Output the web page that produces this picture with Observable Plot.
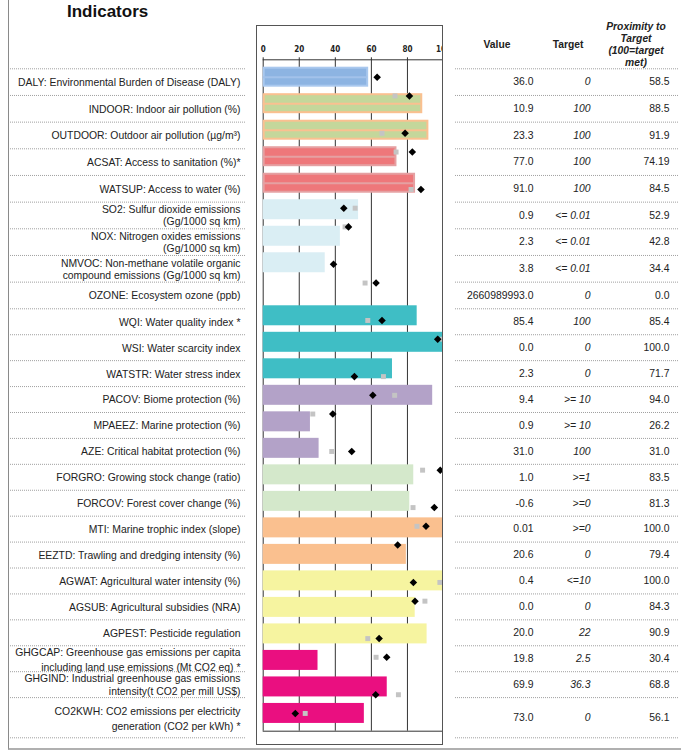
<!DOCTYPE html>
<html>
<head>
<meta charset="utf-8">
<script src="https://cdn.jsdelivr.net/npm/d3@7"></script>
<script src="https://cdn.jsdelivr.net/npm/@observablehq/plot@0.6"></script>
<style>
  body { margin: 0; background: #fff; }
  #page { position: relative; width: 681px; height: 753px; overflow: hidden;
          font-family: "Liberation Sans", Arial, sans-serif; color: #222; background: #fff; }
  #frame { position: absolute; left: 8px; top: -4px; width: 700px; height: 754px;
           border-left: 1.5px solid #8a8a8a; border-bottom: 2px solid #b0b0b0; box-sizing: border-box; }
  #table { position: absolute; left: 0; top: 0; }
  #bars { position: absolute; left: 256px; top: 25px; }
  #box { position: absolute; left: 256px; top: 25px; width: 187px; height: 720px;
         border: 1px solid #555; box-sizing: border-box; pointer-events: none; }
  .title { position: absolute; left: 67px; top: 2px; font-size: 17px; line-height: 20px; font-weight: bold; color: #111; }
  .hdr { position: absolute; transform: translateX(-50%); font-size: 10.3px; line-height: 12px;
         font-weight: bold; text-align: center; white-space: nowrap; color: #222; }
  .hdr.it { font-style: italic; }
</style>
</head>
<body>
<div id="page">
  <div id="frame"></div>
  <div id="table"></div>
  <div id="bars"></div>
  <div id="box"></div>
  <div class="title">Indicators</div>
  <div class="hdr" style="left:497px; top:39px;">Value</div>
  <div class="hdr" style="left:568px; top:39px;">Target</div>
  <div class="hdr it" style="left:636px; top:20.5px;">Proximity to<br>Target<br>(100=target<br>met)</div>
</div>
<script>
// ---------- data ----------
const indicators = [
  "DALY: Environmental Burden of Disease (DALY)",
  "INDOOR: Indoor air pollution (%)",
  "OUTDOOR: Outdoor air pollution (µg/m³)",
  "ACSAT: Access to sanitation (%)*",
  "WATSUP: Access to water (%)",
  "SO2: Sulfur dioxide emissions\n(Gg/1000 sq km)",
  "NOX: Nitrogen oxides emissions\n(Gg/1000 sq km)",
  "NMVOC: Non-methane volatile organic\ncompound emissions (Gg/1000 sq km)",
  "OZONE: Ecosystem ozone (ppb)",
  "WQI: Water quality index *",
  "WSI: Water scarcity index",
  "WATSTR: Water stress index",
  "PACOV: Biome protection (%)",
  "MPAEEZ: Marine protection (%)",
  "AZE: Critical habitat protection (%)",
  "FORGRO: Growing stock change (ratio)",
  "FORCOV: Forest cover change (%)",
  "MTI: Marine trophic index (slope)",
  "EEZTD: Trawling and dredging intensity (%)",
  "AGWAT: Agricultural water intensity (%)",
  "AGSUB: Agricultural subsidies (NRA)",
  "AGPEST: Pesticide regulation",
  "GHGCAP: Greenhouse gas emissions per capita\nincluding land use emissions (Mt CO2 eq) *",
  "GHGIND: Industrial greenhouse gas emissions\nintensity(t CO2 per mill US$)",
  "CO2KWH: CO2 emissions per electricity\ngeneration (CO2 per kWh) *"
];
const groups = [
  "EBD", "AirH", "AirH", "WaterH", "WaterH",
  "AirE", "AirE", "AirE", "AirE",
  "WaterE", "WaterE", "WaterE",
  "Biodiv", "Biodiv", "Biodiv",
  "Forest", "Forest", "Fish", "Fish",
  "Agri", "Agri", "Agri",
  "Climate", "Climate", "Climate"
];
const values = [
  "36.0", "10.9", "23.3", "77.0", "91.0", "0.9", "2.3", "3.8", "2660989993.0",
  "85.4", "0.0", "2.3", "9.4", "0.9", "31.0", "1.0", "-0.6", "0.01", "20.6",
  "0.4", "0.0", "20.0", "19.8", "69.9", "73.0"
];
const targets = [
  "0", "100", "100", "100", "100", "<= 0.01", "<= 0.01", "<= 0.01", "0",
  "100", "0", "0", ">= 10", ">= 10", "100", ">=1", ">=0", ">=0", "0",
  "<=10", "0", "22", "2.5", "36.3", "0"
];
const proximity = [
  58.5, 88.5, 91.9, 74.19, 84.5, 52.9, 42.8, 34.4, 0.0, 85.4, 100.0, 71.7, 94.0,
  26.2, 31.0, 83.5, 81.3, 100.0, 79.4, 100.0, 84.3, 90.9, 30.4, 68.8, 56.1
];
// black diamonds and grey squares (0–100 scale)
const diamondScores = [
  63.2, 81.1, 78.7, 82.7, 87.5, 44.7, 47.3, 39.0, 62.6, 65.9, 96.8, 50.6, 60.8,
  38.6, 49.1, 98.2, 94.9, 90.3, 74.6, 83.3, 84.2, 64.3, 68.5, 62.4, 17.8
];
const squareScores = [
  null, 73.1, 65.9, 73.7, 82.0, 51.0, 45.4, null, 56.5, 58.0, 99.5, 66.7, 72.9,
  27.5, 38.0, 88.4, 83.1, 85.3, null, 98.0, 89.7, 58.0, 62.6, 75.0, 23.3
];
// vertical slot of the marker series (its own category axis, 0–34)
const markerSlots = [
  0, 1, 3, 4, 6, 7, 8, 10, 11, 13, 14, 16, 17, 18, 20, 21, 23, 24, 25, 27, 28, 30, 31, 33, 34
];
const xTicks = [0, 20, 40, 60, 80, 100];

// ---------- styles ----------
const FONT = '"Liberation Sans", Arial, sans-serif';
const FS = 10.4;
const groupStyle = {
  EBD:     {fill: "#8DB4E2", edge: "#A9C8EE", stripe: "#A3C2EA"},
  AirH:    {fill: "#C4D79B", edge: "#FAC090", stripe: "#FAC090"},
  WaterH:  {fill: "#EE777A", edge: "#E5A0A2", stripe: "#E5A0A2"},
  AirE:    {fill: "#DAEEF4"},
  WaterE:  {fill: "#3FBEC5"},
  Biodiv:  {fill: "#B3A2C8"},
  Forest:  {fill: "#D4E8CB"},
  Fish:    {fill: "#FAC08F"},
  Agri:    {fill: "#F6F4A0"},
  Climate: {fill: "#EA0F80"}
};

const n = indicators.length;
const lastSpan = 1.55;                       // last label row is taller
const center = i => i < n - 1 ? i + 0.5 : i + lastSpan / 2;
const fmt = v => Math.abs(Math.round(v * 10) - v * 10) < 1e-9 ? v.toFixed(1) : String(v);
const slotMax = d3.max(markerSlots);

const rows = indicators.map((name, i) => ({
  name, i, c: center(i), group: groups[i], value: values[i], target: targets[i],
  prox: proximity[i], dia: diamondScores[i], sq: squareScores[i],
  my: markerSlots[i] * (n - 1) / slotMax
}));
const seps = d3.range(n).concat([n - 1 + lastSpan]);
// footnoted climate rows are set with looser line spacing
const loose = rows.filter(d => d.group === "Climate" && d.name.endsWith("*"));
const tight = rows.filter(d => !loose.includes(d));

// ---------- left labels + right table ----------
const table = Plot.plot({
  width: 681, height: 753, margin: 0,
  x: {type: "identity", axis: null},
  y: {type: "linear", domain: [0, 9, n - 1 + lastSpan], range: [68.3, 308.3, 737.3], axis: null},
  style: {fontFamily: FONT, background: "transparent"},
  marks: [
    Plot.ruleY(seps, {x1: 10, x2: 246, stroke: "#a0a0a0", strokeDasharray: "1,1"}),
    Plot.ruleY(seps, {x1: 455, x2: 678, stroke: "#a0a0a0", strokeDasharray: "1,1"}),
    Plot.text(tight, {x: 240, y: "c", text: "name", textAnchor: "end", fontSize: FS, lineHeight: 1.17, fill: "#222"}),
    Plot.text(loose, {x: 240, y: "c", text: "name", textAnchor: "end", fontSize: FS, lineHeight: 1.42, fill: "#222"}),
    Plot.text(rows, {x: 533, y: "c", text: "value", textAnchor: "end", fontSize: FS, fill: "#222"}),
    Plot.text(rows, {x: 590, y: "c", text: "target", textAnchor: "end", fontSize: FS, fontStyle: "italic", fill: "#222"}),
    Plot.text(rows, {x: 669, y: "c", text: d => fmt(d.prox), textAnchor: "end", fontSize: FS, fill: "#222"})
  ]
});
document.getElementById("table").append(table);

// ---------- bar chart ----------
const yDom = [-0.656, 24.67];
const h = 0.377;
const withBar = rows.filter(d => d.prox > 0);
const striped = withBar.filter(d => groupStyle[d.group].stripe);
const plain = withBar.filter(d => !groupStyle[d.group].stripe);

const bars = Plot.plot({
  width: 187, height: 720,
  marginLeft: 6.7, marginRight: 0, marginTop: 34.3, marginBottom: 14.3,
  x: {domain: [0, 100], axis: null},
  y: {domain: yDom, reverse: true, axis: null},
  style: {fontFamily: FONT, overflow: "hidden", background: "#fff"},
  marks: [
    Plot.ruleX(xTicks, {stroke: "#333", strokeWidth: 1, insetTop: -2}),
    Plot.ruleY(yDom, {x1: 0, x2: 100, stroke: "#333"}),
    Plot.text(xTicks, {x: d => d, frameAnchor: "top", dy: -13.3, text: d => String(d),
      fontSize: 8, fontWeight: "bold", fontFamily: '"Liberation Sans Narrow", "DejaVu Sans Condensed", sans-serif', fill: "#222"}),
    Plot.rect(plain, {x1: 0, x2: "prox", y1: d => d.i - h, y2: d => d.i + h,
      fill: d => groupStyle[d.group].fill}),
    Plot.rect(striped, {x1: 0, x2: "prox", y1: d => d.i - h, y2: d => d.i + h,
      fill: d => groupStyle[d.group].fill, stroke: d => groupStyle[d.group].edge, strokeWidth: 2, inset: 1}),
    Plot.ruleY(striped, {y: "i", x1: 0, x2: d => d.prox - 0.6, stroke: d => groupStyle[d.group].stripe, strokeWidth: 2}),
    Plot.dot(rows.filter(d => d.sq != null), {x: "sq", y: "my", symbol: "square", r: 2.8, fill: "#c4c4c4", stroke: "none"}),
    Plot.dot(rows, {x: "dia", y: "my", symbol: "diamond2", r: 3.4, fill: "#000", stroke: "none"})
  ]
});
document.getElementById("bars").append(bars);
</script>
</body>
</html>
